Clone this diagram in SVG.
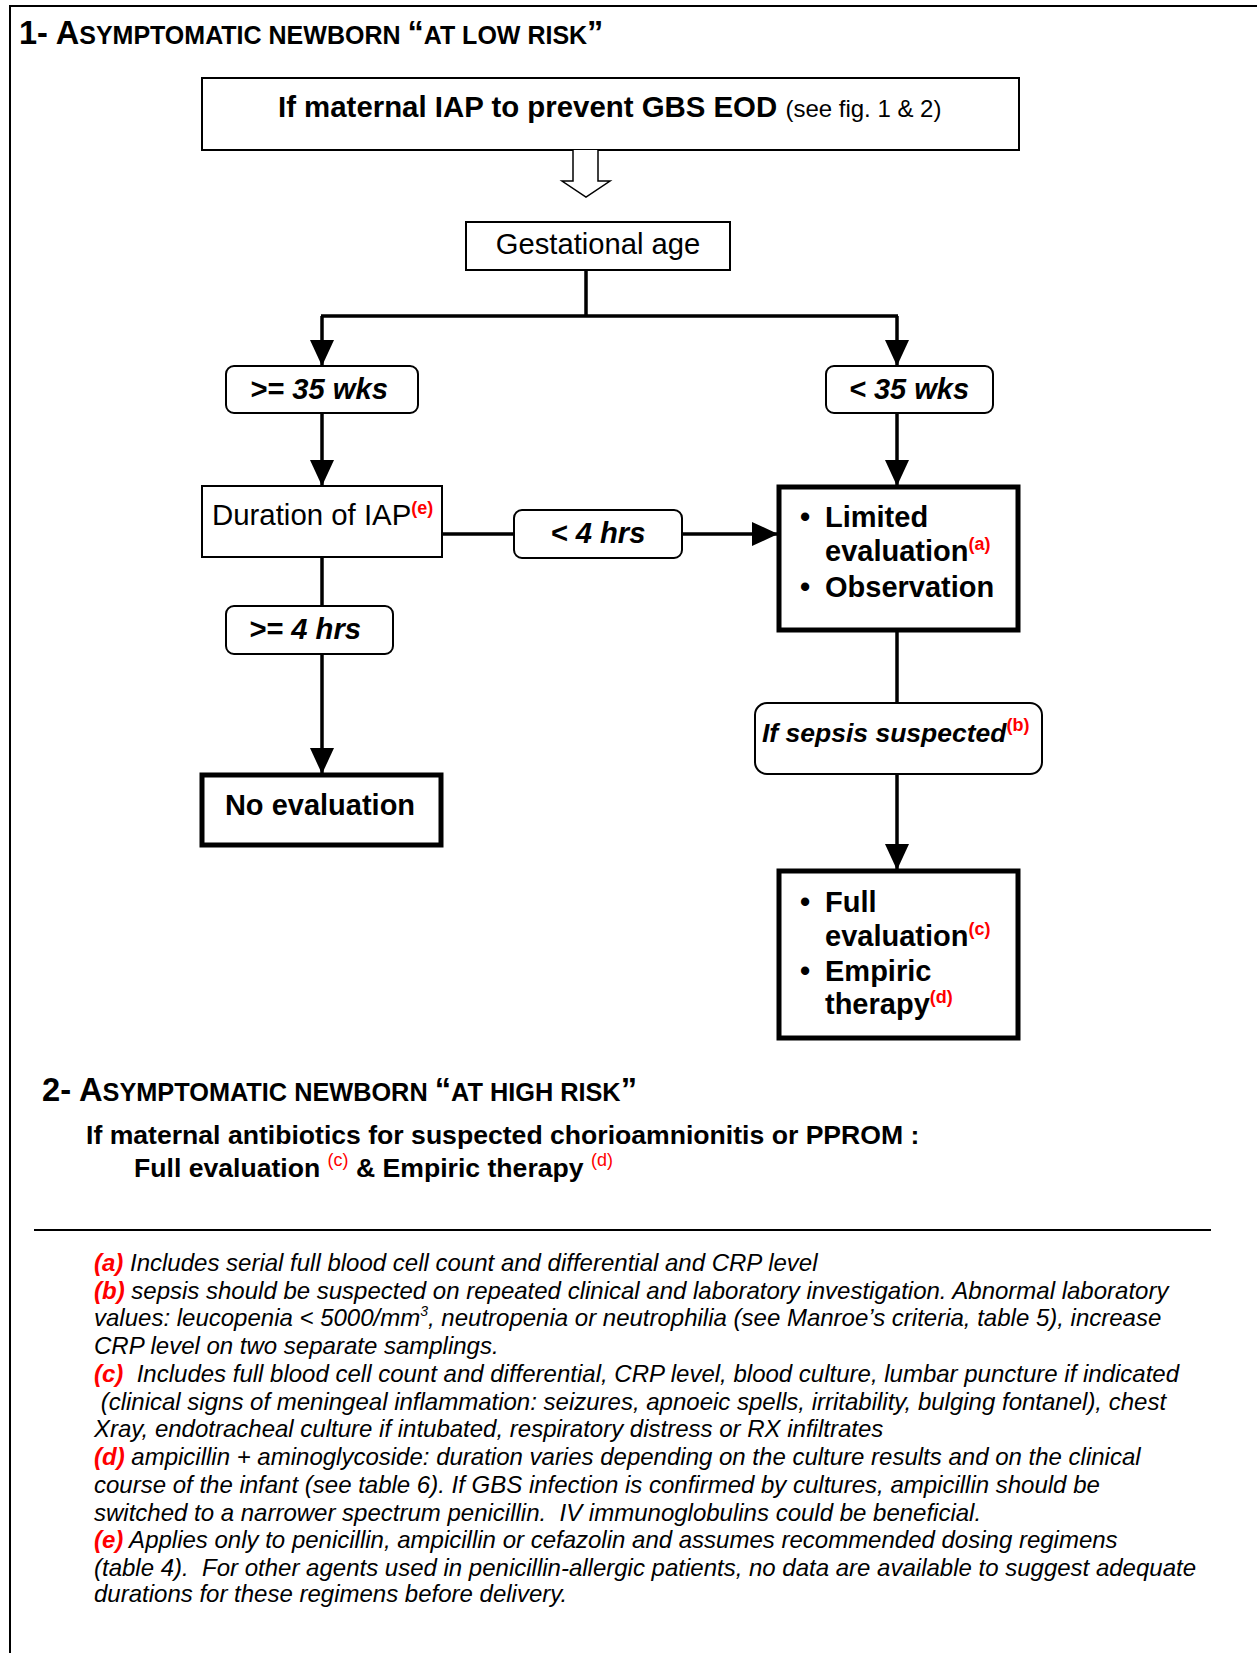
<svg xmlns="http://www.w3.org/2000/svg" width="1257" height="1653" viewBox="0 0 1257 1653">
<style>
text{font-family:"Liberation Sans",Arial,sans-serif;fill:#000}
.b{font-weight:bold}
.bi{font-weight:bold;font-style:italic}
.it{font-style:italic}
.red{fill:#ff0000}
.box{fill:#fff;stroke:#000;stroke-width:2}
.thick{fill:#fff;stroke:#000;stroke-width:5}
.conn{fill:none;stroke:#000;stroke-width:3.5}
.sup{font-weight:bold;fill:#ff0000;font-size:18px}
</style>
<defs>
<marker id="ah" markerUnits="userSpaceOnUse" markerWidth="26" markerHeight="26" viewBox="0 0 26 26" refX="25" refY="13" orient="auto">
<path d="M0,1 L26,13 L0,25 z" fill="#000"/>
</marker>
</defs>
<rect width="1257" height="1653" fill="#fff"/>
<path d="M10,1653 V6 H1257" fill="none" stroke="#000" stroke-width="2"/>

<text x="19" y="44" class="b" font-size="32.5">1- A<tspan font-size="25">SYMPTOMATIC NEWBORN </tspan>“<tspan font-size="25">AT LOW RISK</tspan>”</text>

<g id="n-top">
<rect class="box" x="202" y="78" width="817" height="72"/>
<text x="278" y="117" class="b" font-size="29.4">If maternal IAP to prevent GBS EOD <tspan font-weight="normal" font-size="24">(see fig. 1 &amp; 2)</tspan></text>
</g>

<g id="n-hollow-arrow">
<path d="M573,150 V181 H562 L586,197 L610,181 H598 V150" fill="#fff" stroke="#000" stroke-width="1.5"/>
</g>

<g id="n-gest">
<rect class="box" x="466" y="222" width="264" height="48"/>
<text x="598" y="254" text-anchor="middle" font-size="29.2">Gestational age</text>
</g>

<g id="n-ge35">
<rect class="box" x="226" y="366" width="192" height="47" rx="8"/>
<text x="319" y="399" text-anchor="middle" class="bi" font-size="29.2">&gt;= 35 wks</text>
</g>

<g id="n-lt35">
<rect class="box" x="826" y="366" width="167" height="47" rx="8"/>
<text x="909" y="399" text-anchor="middle" class="bi" font-size="29">&lt; 35 wks</text>
</g>

<g id="n-duration">
<rect class="box" x="202" y="486" width="240" height="71"/>
<text x="212" y="525" font-size="29.4">Duration of IAP<tspan class="sup" dy="-11">(e)</tspan></text>
</g>

<g id="n-lt4">
<rect class="box" x="514" y="510" width="168" height="48" rx="8"/>
<text x="598" y="543" text-anchor="middle" class="bi" font-size="29.2">&lt; 4 hrs</text>
</g>

<g id="n-limited">
<rect class="thick" x="779" y="487" width="239" height="143"/>
<text class="b" font-size="29"><tspan x="800" y="527">•</tspan><tspan x="825" y="527">Limited</tspan><tspan x="825" y="561">evaluation<tspan class="sup" dy="-11">(a)</tspan></tspan><tspan x="800" y="597">•</tspan><tspan x="825" y="597">Observation</tspan></text>
</g>

<g id="n-ge4">
<rect class="box" x="226" y="606" width="167" height="48" rx="8"/>
<text x="305" y="639" text-anchor="middle" class="bi" font-size="29.2">&gt;= 4 hrs</text>
</g>

<g id="n-noeval">
<rect class="thick" x="202" y="775" width="239" height="70"/>
<text x="320" y="815" text-anchor="middle" class="b" font-size="29">No evaluation</text>
</g>

<g id="n-sepsis">
<rect class="box" x="755" y="703" width="287" height="71" rx="12"/>
<text x="762" y="742" class="bi" font-size="26.5">If sepsis suspected<tspan class="sup" font-style="normal" dy="-11">(b)</tspan></text>
</g>

<g id="n-full">
<rect class="thick" x="779" y="871" width="239" height="167"/>
<text class="b" font-size="29"><tspan x="800" y="912">•</tspan><tspan x="825" y="912">Full</tspan><tspan x="825" y="946">evaluation<tspan class="sup" dy="-11">(c)</tspan></tspan><tspan x="800" y="981">•</tspan><tspan x="825" y="981">Empiric</tspan><tspan x="825" y="1014">therapy<tspan class="sup" dy="-11">(d)</tspan></tspan></text>
</g>

<g id="connectors">
<path class="conn" d="M586,270 V316 M321,316 H898"/>
<path class="conn" d="M322,316 V365" marker-end="url(#ah)"/>
<path class="conn" d="M897,316 V365" marker-end="url(#ah)"/>
<path class="conn" d="M322,413 V485" marker-end="url(#ah)"/>
<path class="conn" d="M897,413 V485" marker-end="url(#ah)"/>
<path class="conn" d="M442,534 H514"/>
<path class="conn" d="M682,534 H777" marker-end="url(#ah)"/>
<path class="conn" d="M322,557 V606"/>
<path class="conn" d="M322,654 V773" marker-end="url(#ah)"/>
<path class="conn" d="M897,632 V703"/>
<path class="conn" d="M897,774 V869" marker-end="url(#ah)"/>
</g>

<text x="42" y="1101" class="b" font-size="32.7">2- A<tspan font-size="25.3">SYMPTOMATIC NEWBORN </tspan>“<tspan font-size="25.3">AT HIGH RISK</tspan>”</text>
<text x="86" y="1144" class="b" font-size="26.6">If maternal antibiotics for suspected chorioamnionitis or PPROM :</text>
<text x="134" y="1177" class="b" font-size="26.6" xml:space="preserve">Full evaluation <tspan class="red" font-weight="normal" font-size="18" dy="-11">(c)</tspan><tspan dy="11"> &amp; Empiric therapy </tspan><tspan class="red" font-weight="normal" font-size="18" dy="-11">(d)</tspan></text>

<line x1="34" y1="1230" x2="1211" y2="1230" stroke="#000" stroke-width="2"/>

<g class="it" font-size="24">
<text x="94" y="1271" class="it"><tspan class="red" font-weight="bold">(a)</tspan> Includes serial full blood cell count and differential and CRP level</text>
<text x="94" y="1299" class="it"><tspan class="red" font-weight="bold">(b)</tspan> sepsis should be suspected on repeated clinical and laboratory investigation. Abnormal laboratory</text>
<text x="94" y="1326" class="it">values: leucopenia &lt; 5000/mm<tspan font-size="14" dy="-10">3</tspan><tspan dy="10">, neutropenia or neutrophilia (see Manroe’s criteria, table 5), increase</tspan></text>
<text x="94" y="1354" class="it">CRP level on two separate samplings.</text>
<text x="94" y="1382" class="it" xml:space="preserve"><tspan class="red" font-weight="bold">(c)</tspan>  Includes full blood cell count and differential, CRP level, blood culture, lumbar puncture if indicated</text>
<text x="94" y="1410" class="it" xml:space="preserve"> (clinical signs of meningeal inflammation: seizures, apnoeic spells, irritability, bulging fontanel), chest</text>
<text x="94" y="1437" class="it">Xray, endotracheal culture if intubated, respiratory distress or RX infiltrates</text>
<text x="94" y="1465" class="it"><tspan class="red" font-weight="bold">(d)</tspan> ampicillin + aminoglycoside: duration varies depending on the culture results and on the clinical</text>
<text x="94" y="1493" class="it">course of the infant (see table 6). If GBS infection is confirmed by cultures, ampicillin should be</text>
<text x="94" y="1521" class="it" xml:space="preserve">switched to a narrower spectrum penicillin.  IV immunoglobulins could be beneficial.</text>
<text x="94" y="1548" class="it"><tspan class="red" font-weight="bold">(e)</tspan> Applies only to penicillin, ampicillin or cefazolin and assumes recommended dosing regimens</text>
<text x="94" y="1576" class="it" xml:space="preserve">(table 4).  For other agents used in penicillin-allergic patients, no data are available to suggest adequate</text>
<text x="94" y="1602" class="it">durations for these regimens before delivery.</text>
</g>
</svg>
